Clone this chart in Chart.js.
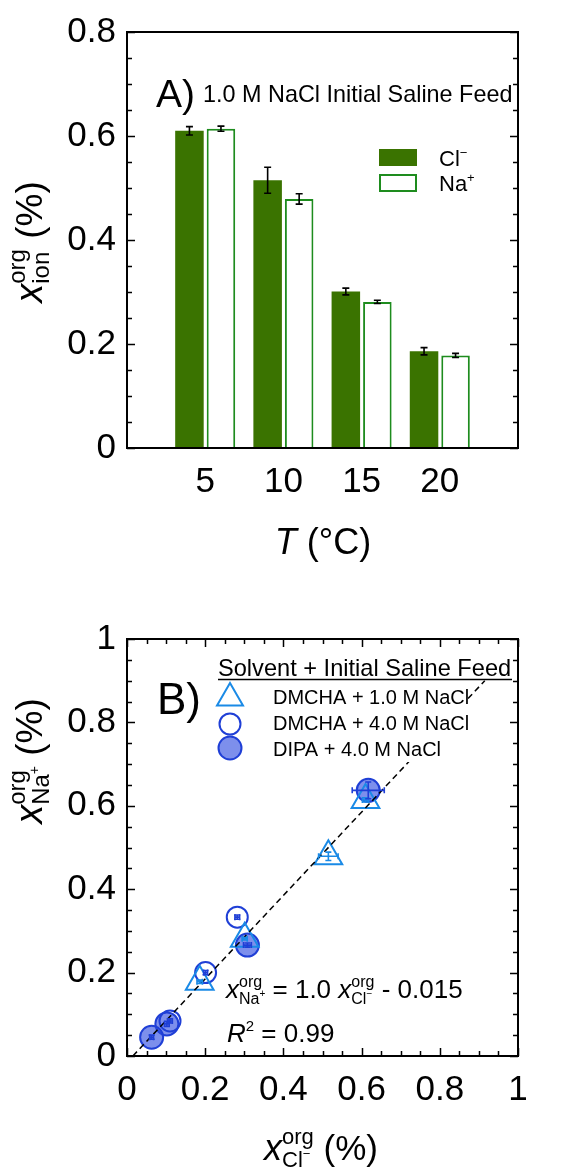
<!DOCTYPE html>
<html><head><meta charset="utf-8">
<script src="https://cdn.jsdelivr.net/npm/chart.js@4.4.1/dist/chart.umd.min.js"></script>
<style>
html,body{margin:0;padding:0;background:#fff;width:568px;height:1167px;overflow:hidden}
#a{position:absolute;left:0;top:0}
#b{position:absolute;left:0;top:580px}
</style></head><body>
<canvas id="a" width="568" height="580"></canvas>
<canvas id="b" width="568" height="587"></canvas>
<script>
const FAM = '"Liberation Sans", Arial, Helvetica, sans-serif';

// ---------- Panel A data ----------
const temps = [5, 10, 15, 20];
const tempTicks = [5, 10, 15, 20];
const clValues = [0.610, 0.515, 0.301, 0.186];
const clErrors = [0.008, 0.025, 0.0065, 0.007];
const naValues = [0.614, 0.479, 0.281, 0.178];
const naErrors = [0.005, 0.010, 0.003, 0.004];
const yTicksA = [0, 0.2, 0.4, 0.6, 0.8];

// ---------- Panel B data ----------
const dmcha1X = [0.610, 0.515, 0.301, 0.186];
const dmcha1Y = [0.614, 0.479, 0.281, 0.178];
const dmcha1XErr = [0.008, 0.025, 0.0065, 0.007];
const dmcha1YErr = [0.005, 0.010, 0.003, 0.004];
const dmcha4X = [0.282, 0.201, 0.110];
const dmcha4Y = [0.333, 0.200, 0.084];
const dmcha4XErr = [0.006, 0.005, 0.006];
const dmcha4YErr = [0.005, 0.005, 0.005];
const dipaX = [0.617, 0.308, 0.102, 0.063];
const dipaY = [0.637, 0.266, 0.077, 0.045];
const dipaXErr = [0.041, 0.010, 0.006, 0.005];
const dipaYErr = [0.020, 0.005, 0.006, 0.005];
const fitX = [0.015, 0.915];
const fitY = [0.000, 0.900];
const xTicksB = [0, 0.2, 0.4, 0.6, 0.8, 1];
const yTicksB = [0, 0.2, 0.4, 0.6, 0.8, 1];

const GREEN_DARK = '#3a7300';
const GREEN = '#1e8c1e';
const TRI_BLUE = '#1a8ae6';
const CIR_BLUE = '#1f3fd6';
const CIR_FILL = 'rgba(45,75,225,0.62)';
const fmtTick = v => String(Number(Number(v).toFixed(2)));

// ---------- helpers ----------
function runWidth(ctx, items, draw, x, y) {
  let cx = x || 0;
  for (const it of items) {
    ctx.font = (it.italic ? 'italic ' : '') + it.size + 'px ' + FAM;
    if (draw) ctx.fillText(it.t, cx, y + (it.dy || 0));
    cx += ctx.measureText(it.t).width;
  }
  return cx - (x || 0);
}
function rich(ctx, segs, draw, x, y) {
  let cx = x || 0;
  for (const s of segs) {
    if (s.stack) {
      let w = 0;
      for (const part of s.stack) w = Math.max(w, runWidth(ctx, part, draw, cx, y));
      cx += w;
    } else {
      cx += runWidth(ctx, [s], draw, cx, y);
    }
  }
  return cx - (x || 0);
}
function drawRich(ctx, segs, x, y, align) {
  ctx.save();
  ctx.fillStyle = '#000';
  ctx.textBaseline = 'alphabetic';
  ctx.textAlign = 'left';
  const w = rich(ctx, segs, false, 0, 0);
  const sx = align === 'center' ? x - w / 2 : x;
  rich(ctx, segs, true, sx, y);
  ctx.restore();
}
function drawRotated(ctx, segs, baselineX, centerY) {
  ctx.save();
  ctx.translate(baselineX, centerY);
  ctx.rotate(-Math.PI / 2);
  drawRich(ctx, segs, 0, 0, 'center');
  ctx.restore();
}
function frameAndTicks(chart, opts) {
  const ctx = chart.ctx, a = chart.chartArea;
  const xs = chart.scales.x, ys = chart.scales.y;
  ctx.save();
  ctx.strokeStyle = '#000';
  ctx.lineWidth = 1.5;
  for (let i = 0; i <= opts.yCount; i++) {
    const v = i * opts.yStep;
    const p = Math.round(ys.getPixelForValue(v)) + 0.5;
    const L = (i % opts.yMajorEvery === 0) ? 8 : 5;
    ctx.beginPath();
    ctx.moveTo(a.left, p); ctx.lineTo(a.left + L, p);
    ctx.moveTo(a.right, p); ctx.lineTo(a.right - L, p);
    ctx.stroke();
  }
  if (opts.xCount) {
    for (let i = 0; i <= opts.xCount; i++) {
      const v = i * opts.xStep;
      const p = Math.round(xs.getPixelForValue(v)) + 0.5;
      const L = (i % opts.xMajorEvery === 0) ? 8 : 5;
      ctx.beginPath();
      ctx.moveTo(p, a.bottom); ctx.lineTo(p, a.bottom - L);
      ctx.moveTo(p, a.top); ctx.lineTo(p, a.top + L);
      ctx.stroke();
    }
  }
  ctx.lineWidth = 2;
  ctx.strokeRect(a.left, a.top, a.right - a.left, a.bottom - a.top);
  ctx.restore();
}
function errBar(ctx, x1, y1, x2, y2, cap, vertical) {
  ctx.beginPath();
  ctx.moveTo(x1, y1); ctx.lineTo(x2, y2);
  if (vertical) {
    ctx.moveTo(x1 - cap, y1); ctx.lineTo(x1 + cap, y1);
    ctx.moveTo(x2 - cap, y2); ctx.lineTo(x2 + cap, y2);
  } else {
    ctx.moveTo(x1, y1 - cap); ctx.lineTo(x1, y1 + cap);
    ctx.moveTo(x2, y2 - cap); ctx.lineTo(x2, y2 + cap);
  }
  ctx.stroke();
}

// ---------- Panel A ----------
const pluginA = {
  id: 'panelA',
  afterDatasetsDraw(chart) {
    const ctx = chart.ctx, ys = chart.scales.y;
    ctx.save();
    ctx.strokeStyle = '#000';
    ctx.lineWidth = 1.6;
    [[clValues, clErrors], [naValues, naErrors]].forEach(([vals, errs], di) => {
      const meta = chart.getDatasetMeta(di);
      meta.data.forEach((el, i) => {
        errBar(ctx, el.x, ys.getPixelForValue(vals[i] + errs[i]), el.x, ys.getPixelForValue(vals[i] - errs[i]), 3.5, true);
      });
    });
    ctx.restore();
  },
  afterDraw(chart) {
    const ctx = chart.ctx;
    frameAndTicks(chart, { yCount: 16, yStep: 0.05, yMajorEvery: 4, xCount: 0 });
    ctx.save();
    ctx.fillStyle = GREEN_DARK;
    ctx.fillRect(379, 149, 38, 17);
    ctx.fillStyle = '#fff';
    ctx.strokeStyle = GREEN;
    ctx.lineWidth = 2;
    ctx.fillRect(380, 175, 36, 16);
    ctx.strokeRect(380, 175, 36, 16);
    ctx.restore();
    drawRich(ctx, [{ t: 'Cl', size: 22 }, { t: '−', size: 13, dy: -9 }], 439, 166);
    drawRich(ctx, [{ t: 'Na', size: 22 }, { t: '+', size: 13, dy: -9 }], 439, 191);
    drawRich(ctx, [{ t: 'A)', size: 39 }], 156, 107);
    drawRich(ctx, [{ t: '1.0 M NaCl Initial Saline Feed', size: 23.4 }], 203, 102);
    drawRich(ctx, [{ t: 'T', size: 36, italic: true }, { t: ' (°C)', size: 36 }], 323, 554, 'center');
    drawRotated(ctx, [
      { t: 'x', size: 38, italic: true },
      { stack: [[{ t: 'org', size: 24, dy: -17 }], [{ t: 'ion', size: 24, dy: 7 }]] },
      { t: ' (%)', size: 37 }
    ], 42, 242);
  }
};

new Chart(document.getElementById('a'), {
  type: 'bar',
  data: {
    datasets: [
      { label: 'Cl−', data: temps.map((t, i) => ({ x: t, y: clValues[i] })), backgroundColor: GREEN_DARK, borderWidth: 0,
        categoryPercentage: 0.806, barPercentage: 0.905 },
      { label: 'Na+', data: temps.map((t, i) => ({ x: t, y: naValues[i] })), backgroundColor: '#fff', borderColor: GREEN, borderWidth: 2,
        categoryPercentage: 0.806, barPercentage: 0.905 }
    ]
  },
  options: {
    responsive: false, animation: false, devicePixelRatio: 1,
    layout: { padding: { left: 0, top: 31, right: 50, bottom: 82 } },
    plugins: { legend: { display: false }, tooltip: { enabled: false } },
    scales: {
      x: {
        type: 'linear', min: 0, max: 25, offset: false,
        grid: { display: false, drawTicks: false }, border: { display: false },
        afterBuildTicks: s => { s.ticks = tempTicks.map(v => ({ value: v })); },
        afterFit: s => { s.height = 50; },
        ticks: { font: { family: FAM, size: 35 }, color: '#000', padding: 13, autoSkip: false, maxRotation: 0, callback: fmtTick }
      },
      y: {
        min: 0, max: 0.8,
        grid: { display: false, drawTicks: false }, border: { display: false },
        afterBuildTicks: s => { s.ticks = yTicksA.map(v => ({ value: v })); },
        afterFit: s => { s.width = 127; },
        ticks: { font: { family: FAM, size: 35 }, color: '#000', padding: 11, autoSkip: false, callback: fmtTick }
      }
    }
  },
  plugins: [pluginA]
});

// ---------- Panel B ----------
const pluginB = {
  id: 'panelB',
  afterDatasetsDraw(chart) {
    const ctx = chart.ctx, xs = chart.scales.x, ys = chart.scales.y;
    ctx.save();
    ctx.lineWidth = 1.6;
    const groups = [
      [dmcha1X, dmcha1Y, dmcha1XErr, dmcha1YErr, TRI_BLUE],
      [dmcha4X, dmcha4Y, dmcha4XErr, dmcha4YErr, CIR_BLUE],
      [dipaX, dipaY, dipaXErr, dipaYErr, CIR_BLUE]
    ];
    for (const [X, Y, XE, YE, col] of groups) {
      ctx.strokeStyle = col;
      X.forEach((x, i) => {
        const px = xs.getPixelForValue(x), py = ys.getPixelForValue(Y[i]);
        errBar(ctx, xs.getPixelForValue(x - XE[i]), py, xs.getPixelForValue(x + XE[i]), py, 3, false);
        errBar(ctx, px, ys.getPixelForValue(Y[i] + YE[i]), px, ys.getPixelForValue(Y[i] - YE[i]), 3, true);
      });
    }
    ctx.restore();
  },
  afterDraw(chart) {
    const ctx = chart.ctx;
    frameAndTicks(chart, { yCount: 20, yStep: 0.05, yMajorEvery: 4, xCount: 20, xStep: 0.05, xMajorEvery: 4 });
    ctx.save();
    ctx.fillStyle = '#fff';
    ctx.fillRect(213, 102, 255, 80);
    ctx.restore();
    drawRich(ctx, [{ t: 'Solvent + Initial Saline Feed', size: 23.6 }], 218, 96);
    ctx.save();
    ctx.strokeStyle = '#000'; ctx.lineWidth = 1.5;
    ctx.beginPath(); ctx.moveTo(218, 99.5); ctx.lineTo(512, 99.5); ctx.stroke();
    ctx.lineWidth = 2;
    const lx = 230;
    const r = 15;
    ctx.strokeStyle = TRI_BLUE;
    ctx.beginPath();
    ctx.moveTo(lx, 118 - r);
    ctx.lineTo(lx + r * Math.sin(2 * Math.PI / 3), 118 + r / 2);
    ctx.lineTo(lx - r * Math.sin(2 * Math.PI / 3), 118 + r / 2);
    ctx.closePath(); ctx.stroke();
    ctx.strokeStyle = CIR_BLUE;
    ctx.beginPath(); ctx.arc(lx, 144, 10.5, 0, Math.PI * 2); ctx.stroke();
    ctx.fillStyle = CIR_FILL;
    ctx.beginPath(); ctx.arc(lx, 168, 11.5, 0, Math.PI * 2); ctx.fill(); ctx.stroke();
    ctx.restore();
    drawRich(ctx, [{ t: 'DMCHA + 1.0 M NaCl', size: 20 }], 273, 124);
    drawRich(ctx, [{ t: 'DMCHA + 4.0 M NaCl', size: 20 }], 273, 150);
    drawRich(ctx, [{ t: 'DIPA + 4.0 M NaCl', size: 20 }], 273, 176);
    drawRich(ctx, [{ t: 'B)', size: 44 }], 157, 134);
    drawRich(ctx, [
      { t: 'x', size: 26, italic: true },
      { stack: [[{ t: 'org', size: 16, dy: -11 }], [{ t: 'Na', size: 16, dy: 6 }, { t: '+', size: 10, dy: -1 }]] },
      { t: ' = 1.0 ', size: 26 },
      { t: 'x', size: 26, italic: true },
      { stack: [[{ t: 'org', size: 16, dy: -11 }], [{ t: 'Cl', size: 16, dy: 6 }, { t: '−', size: 10, dy: -1 }]] },
      { t: ' - 0.015', size: 26 }
    ], 226, 418);
    drawRich(ctx, [
      { t: 'R', size: 26, italic: true },
      { t: '2', size: 15, dy: -11 },
      { t: ' = 0.99', size: 26 }
    ], 227, 462);
    drawRich(ctx, [
      { t: 'x', size: 36, italic: true },
      { stack: [[{ t: 'org', size: 22, dy: -16 }], [{ t: 'Cl', size: 22, dy: 7 }, { t: '−', size: 13, dy: -2 }]] },
      { t: ' (%)', size: 35 }
    ], 321, 580, 'center');
    drawRotated(ctx, [
      { t: 'x', size: 38, italic: true },
      { stack: [[{ t: 'org', size: 24, dy: -17 }], [{ t: 'Na', size: 24, dy: 7 }, { t: '+', size: 14, dy: -3 }]] },
      { t: ' (%)', size: 37 }
    ], 42, 181);
  }
};

new Chart(document.getElementById('b'), {
  type: 'scatter',
  data: {
    datasets: [
      { label: 'fit', data: fitX.map((x, i) => ({ x, y: fitY[i] })), showLine: true, borderColor: '#000', borderWidth: 1.5,
        borderDash: [6, 4], pointRadius: 0, fill: false },
      { label: 'DMCHA + 1.0 M NaCl', data: dmcha1X.map((x, i) => ({ x, y: dmcha1Y[i] })), pointStyle: 'triangle', pointRadius: 16,
        backgroundColor: 'rgba(0,0,0,0)', borderColor: TRI_BLUE, borderWidth: 2 },
      { label: 'DMCHA + 4.0 M NaCl', data: dmcha4X.map((x, i) => ({ x, y: dmcha4Y[i] })), pointStyle: 'circle', pointRadius: 10.5,
        backgroundColor: 'rgba(255,255,255,0)', borderColor: CIR_BLUE, borderWidth: 2 },
      { label: 'DIPA + 4.0 M NaCl', data: dipaX.map((x, i) => ({ x, y: dipaY[i] })), pointStyle: 'circle', pointRadius: 11.5,
        backgroundColor: CIR_FILL, borderColor: CIR_BLUE, borderWidth: 2 }
    ]
  },
  options: {
    responsive: false, animation: false, devicePixelRatio: 1,
    layout: { padding: { left: 0, top: 59, right: 50, bottom: 61 } },
    plugins: { legend: { display: false }, tooltip: { enabled: false } },
    scales: {
      x: {
        type: 'linear', min: 0, max: 1,
        grid: { display: false, drawTicks: false }, border: { display: false },
        afterBuildTicks: s => { s.ticks = xTicksB.map(v => ({ value: v })); },
        afterFit: s => { s.height = 50; },
        ticks: { font: { family: FAM, size: 35 }, color: '#000', padding: 13, autoSkip: false, maxRotation: 0, callback: fmtTick }
      },
      y: {
        type: 'linear', min: 0, max: 1,
        grid: { display: false, drawTicks: false }, border: { display: false },
        afterBuildTicks: s => { s.ticks = yTicksB.map(v => ({ value: v })); },
        afterFit: s => { s.width = 127; },
        ticks: { font: { family: FAM, size: 35 }, color: '#000', padding: 11, autoSkip: false, callback: fmtTick }
      }
    }
  },
  plugins: [pluginB]
});
</script>
</body></html>
